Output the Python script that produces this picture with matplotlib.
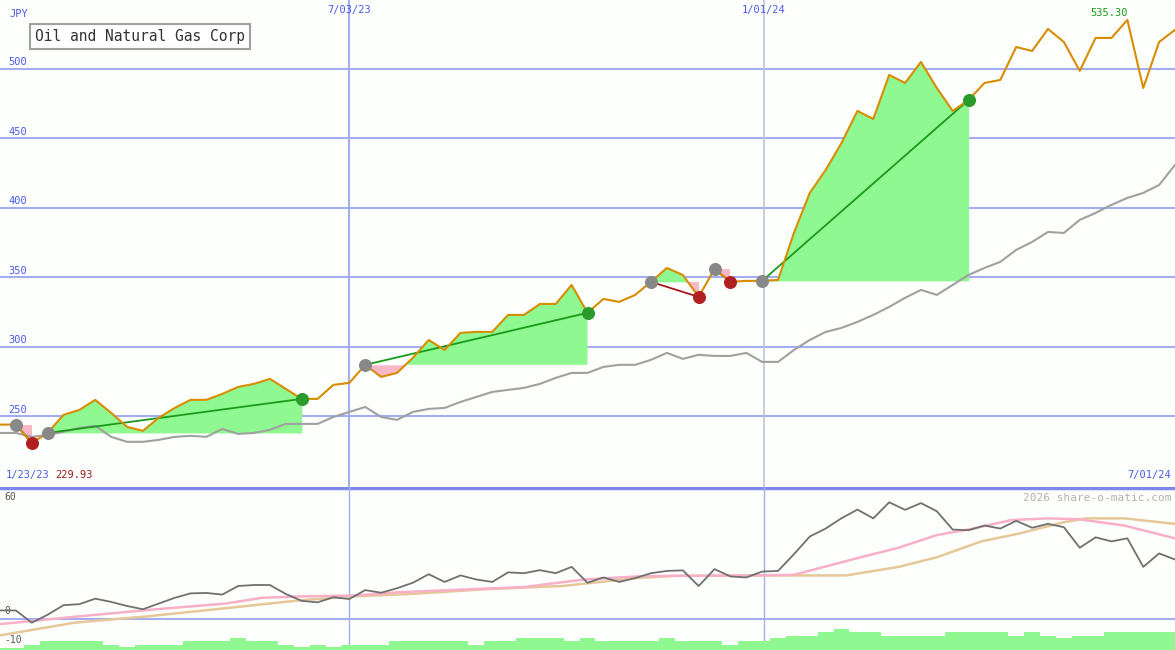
import matplotlib
matplotlib.use("Agg")
import matplotlib.pyplot as plt
import numpy as np

price = [244.1,244.1,230.9,238.1,251.1,254.7,261.9,252.5,242.5,239.6,249.0,256.1,261.9,261.9,266.2,271.2,273.4,277.0,269.8,262.6,
         262.6,272.7,274.1,287.1,278.4,281.3,292.1,305.0,297.8,310.1,310.8,310.8,323.0,323.0,330.9,330.9,344.6,324.5,
         334.5,332.4,337.4,346.8,356.8,351.8,336.0,356.1,346.8,347.5,347.5,348.2,382.0,410.8,427.3,446.8,469.8,464.0,495.7,
         489.9,505.0,486.3,469.8,477.7,489.9,492.1,515.8,512.9,528.8,519.4,498.6,522.3,522.3,535.3,486.3,519.4,528.1]
ma = [238.1,238.1,235.3,236.7,238.9,241.7,243.2,235.3,231.7,231.7,233.1,235.3,236.0,235.3,241.0,237.4,238.1,240.3,244.6,244.6,
      244.6,249.6,253.2,256.8,249.6,247.5,253.2,255.4,256.1,260.4,264.0,267.6,269.1,270.5,273.4,277.7,281.3,281.3,
      285.6,287.1,287.1,290.7,295.7,291.4,294.3,293.5,293.5,295.7,289.2,289.2,297.8,305.0,310.8,313.7,318.0,323.0,328.8,
      335.3,341.0,337.4,344.6,351.8,356.8,361.2,369.8,375.5,382.7,382.0,391.4,396.4,402.2,407.2,410.8,416.5,430.9]
# trades: (entry index, exit index)
trades = [(1, 2), (3, 19), (23, 37), (41, 44), (45, 46), (48, 61)]

mom = [4.4,4.4,-1.6,2.3,7.0,7.5,10.2,8.6,6.6,5.0,7.8,10.6,12.8,13.0,12.2,16.4,16.9,16.9,12.5,9.1,8.4,10.9,10.0,14.4,13.1,
       15.3,18.0,22.2,18.4,21.6,19.6,18.4,23.1,22.7,24.2,22.7,25.8,18.0,20.6,18.4,20.3,22.7,23.8,24.1,16.4,24.7,21.1,20.6,
       23.5,23.8,32.0,40.7,44.6,49.7,53.9,49.6,57.5,53.8,57.1,53.1,44.1,43.8,46.1,44.6,48.4,45.0,46.9,45.3,35.2,40.3,38.3,
       39.8,25.8,32.4,29.4]
pink_x = [0,4.7,9.4,14.2,16.5,18.9,22.2,25,28.3,33,36.8,40.1,42.5,47.2,50,51.9,54.2,56.6,59,61.3,63.7,66,67.9,70.8,74]
pink_v = [-2.3,1.3,4.7,7.8,10.6,11.3,11.7,13.3,14.4,15.9,19.6,21.1,21.4,21.6,21.9,25.8,30.5,35.2,41.4,44.6,48.8,49.6,49.2,46.1,39.8]
tan_x = [0,4.7,9.4,14.2,18.9,22.2,25.9,30.7,35.4,40.1,42.5,49.5,53.3,56.6,59,61.8,64.2,67,68.4,70.8,74]
tan_v = [-7.8,-1.6,1.6,5.5,9.4,11.3,12.5,14.9,16.4,20.3,21.4,21.6,21.6,25.8,30.5,38.3,42.2,47.7,49.6,49.6,46.9]
volume = [7,7,17,27,27,27,27,17,10,17, 17,17,27,27,27,37,27,27,17,10, 17,10,17,17,17,27,27,27,27,27,
          17,27,27,37,37,37,27,37,27,27, 27,27,37,27,27,27,17,27,27,37, 45,45,57,65,57,57,45,45,45,45,
          57,57,57,57,45,57,45,37,45,45, 57,57,57,57,57]
yticks = [250, 300, 350, 400, 450, 500]

x = np.arange(len(price))
p = np.array(price)
BG = "#fdfffd"; GRID = "#a3adf0"; BLUE = "#4a5ae8"; MONO = "DejaVu Sans Mono"

fig = plt.figure(figsize=(11.75, 6.5), dpi=100, facecolor=BG)
ax = fig.add_axes([0, 163/650, 1, 487/650])
ax2 = fig.add_axes([0, 0, 1, 163/650])
for a in (ax, ax2):
    a.set_facecolor(BG)
    a.set_xlim(0, 74)
    for s in a.spines.values():
        s.set_visible(False)
    a.set_xticks([]); a.set_yticks([])

ax.set_ylim(199.2, 549.6)
for v in yticks:
    ax.axhline(v, color=GRID, lw=1.5, zorder=1)
    ax.text(0.5, v + 1.2, str(v), color=BLUE, fontsize=7.5, family=MONO, va="bottom")
ax.axvline(22, color=GRID, lw=1.5, zorder=1)
ax.axvline(48.1, color="#c0c4d8", lw=1.2, zorder=1)

for a_, b_ in trades:
    xs = x[a_:b_ + 1]; ys = p[a_:b_ + 1]; base = p[a_]
    ax.fill_between(xs, base, ys, where=ys >= base, interpolate=True, color="#90f890", lw=0, zorder=2)
    ax.fill_between(xs, base, ys, where=ys < base, interpolate=True, color="#f8b8c8", lw=0, zorder=2)
    win = p[b_] >= base
    ax.plot([a_, b_], [base, p[b_]], color="#1a9a1a" if win else "#a01818", lw=1.3, zorder=4)

ax.plot(x, ma, color="#a0a0a0", lw=1.5, zorder=3)
ax.plot(x, p, color="#d88c00", lw=1.5, zorder=5)
for a_, b_ in trades:
    win = p[b_] >= p[a_]
    ax.scatter([a_], [p[a_]], s=70, color="#888888", zorder=6)
    ax.scatter([b_], [p[b_]], s=70, color="#2a9a2a" if win else "#b02020", zorder=6)

ax.text(0.008, 0.972, "JPY", transform=ax.transAxes, color=BLUE, fontsize=7.5, family=MONO, va="center")
ax.text(22, 546, "7/03/23", color=BLUE, fontsize=7.5, family=MONO, ha="center", va="top")
ax.text(48.1, 546, "1/01/24", color=BLUE, fontsize=7.5, family=MONO, ha="center", va="top")
imax = int(np.argmax(p))
ax.text(imax, p[imax] + 1, f"{p[imax]:.2f}", color="#1a9a1a", fontsize=7.5, family=MONO, ha="right", va="bottom")
ax.text(0.005, 0.015, "1/23/23", transform=ax.transAxes, color=BLUE, fontsize=7.5, family=MONO, va="bottom")
ax.text(0.047, 0.015, "229.93", transform=ax.transAxes, color="#a01818", fontsize=7.5, family=MONO, va="bottom")
ax.text(0.997, 0.015, "7/01/24", transform=ax.transAxes, color=BLUE, fontsize=7.5, family=MONO, va="bottom", ha="right")
ax.text(0.03, 0.925, "Oil and Natural Gas Corp", transform=ax.transAxes, fontsize=10.5, family=MONO, color="#333333",
        va="center", bbox=dict(boxstyle="square,pad=0.35", fc="white", ec="#a0a0a0", lw=1.5))

ax2.set_ylim(-15, 65)
ax2.axhline(0, color=GRID, lw=1.5, zorder=1)
ax2.axhline(64.6, color="#7c88ec", lw=2.5, zorder=1)
ax2.axvline(22, color=GRID, lw=1, zorder=1)
ax2.axvline(48.1, color=GRID, lw=1, zorder=1)
ax2.bar(x, np.array(volume) * 0.156, bottom=-15, width=1.0, color="#90f890", lw=0, zorder=2)
ax2.plot(tan_x, tan_v, color="#e6c898", lw=1.8, zorder=3)
ax2.plot(pink_x, pink_v, color="#f8b0c8", lw=1.8, zorder=3)
ax2.plot(x, mom, color="#707070", lw=1.3, zorder=4)
ax2.text(0.3, 60, "60", color="#555555", fontsize=7, family=MONO, va="center")
ax2.text(0.3, 1.5, "0", color="#555555", fontsize=7, family=MONO, va="bottom")
ax2.text(0.3, -10, "-10", color="#555555", fontsize=7, family=MONO, va="center")
ax2.text(0.997, 0.93, "2026 share-o-matic.com", transform=ax2.transAxes, color="#b0b0b0", fontsize=8, family=MONO,
         ha="right", va="center")

fig.savefig("out.png", dpi=100, facecolor=BG)
